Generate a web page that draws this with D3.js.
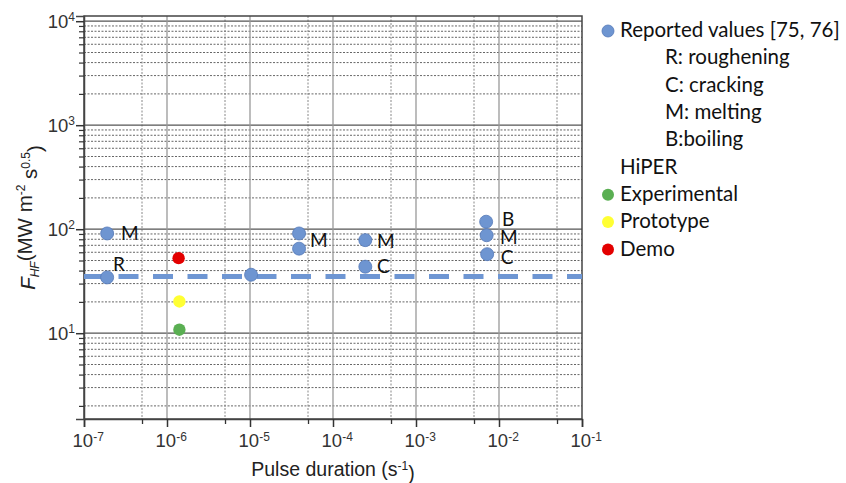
<!DOCTYPE html>
<html><head><meta charset="utf-8">
<script src="https://cdn.jsdelivr.net/npm/d3@7/dist/d3.min.js"></script>
<style>html,body{margin:0;padding:0;background:#fff;}svg{display:block;}</style>
</head><body>
<svg id="chart" width="846" height="483"></svg>
<script>
// ---- data ----
const reportedX = [1.9e-7, 1.9e-7, 1.03e-5, 3.9e-5, 3.9e-5, 2.45e-4, 2.45e-4, 7.0e-3, 7.1e-3, 7.2e-3];
const reportedY = [91, 34.4, 36.5, 91, 65, 78.5, 43.6, 118, 87.5, 57.5];
const hiperNames = ["Experimental", "Prototype", "Demo"];
const hiperX = [1.41e-6, 1.41e-6, 1.38e-6];
const hiperY = [10.8, 20.2, 52.7];
const thresholdY = 35;
const labelText = ["M", "R", "M", "M", "C", "B", "M", "C"];
const labelX = [2.79e-7, 2.24e-7, 5.3e-5, 3.39e-4, 3.39e-4, 1.09e-2, 1.03e-2, 1.05e-2];
const labelY = [91, 46.4, 77.3, 77, 43.6, 125, 84, 53.5];
const xTickExps = [-7, -6, -5, -4, -3, -2, -1];
const yTickExps = [1, 2, 3, 4];
const legendLines = ["Reported values [75, 76]", "R: roughening", "C: cracking", "M: melting", "B:boiling", "HiPER", "Experimental", "Prototype", "Demo"];

// ---- styles ----
const blue = "#6e95d1", blueStroke = "#5479b8";
const hiperColors = ["#5aaf52", "#ffff33", "#e30000"];
const svg = d3.select("#chart");
const L = 84, R = 582, T = 16, B = 419;
const x = d3.scaleLog().domain([1e-7, 1e-1]).range([L, R]);
const y = d3.scaleLog().domain([Math.pow(10, 0.175), Math.pow(10, 4.05)]).range([B, T]);

const yMinor = [];
for (let e = 0; e <= 3; e++) for (let m = 2; m <= 9; m++) { const v = m * Math.pow(10, e); if (v >= y.domain()[0]) yMinor.push(v); }
const yMajor = yTickExps.map(e => Math.pow(10, e));
const xMajor = xTickExps.map(e => Math.pow(10, e));
const xMinor = xTickExps.slice(0, -1).map(e => 5 * Math.pow(10, e));

const g = svg.append("g");
// minor grid
g.selectAll(".ymg").data(yMinor).join("line")
  .attr("x1", L).attr("x2", R).attr("y1", d => y(d)).attr("y2", d => y(d))
  .attr("stroke", "#666").attr("stroke-width", 1).attr("stroke-dasharray", "2,1.5");
g.selectAll(".xmg").data(xMinor).join("line")
  .attr("y1", T).attr("y2", B).attr("x1", d => x(d)).attr("x2", d => x(d))
  .attr("stroke", "#888").attr("stroke-width", 1).attr("stroke-dasharray", "2,1.5");
// major grid
g.selectAll(".yMg").data(yMajor).join("line")
  .attr("x1", L).attr("x2", R).attr("y1", d => y(d)).attr("y2", d => y(d))
  .attr("stroke", "#555").attr("stroke-width", 1.2);
g.selectAll(".xMg").data(xMajor.slice(1, -1)).join("line")
  .attr("y1", T).attr("y2", B).attr("x1", d => x(d)).attr("x2", d => x(d))
  .attr("stroke", "#999").attr("stroke-width", 1.3);
// frame
svg.append("rect").attr("x", L).attr("y", T).attr("width", R - L).attr("height", B - T)
  .attr("fill", "none").attr("stroke", "#444").attr("stroke-width", 1.5);

// axes
function sup(sel, expFn) {
  sel.each(function (d) {
    const t = d3.select(this);
    t.text("10");
    t.append("tspan").attr("dy", "-0.55em").attr("font-size", "12px").text(expFn(d));
  });
}
const xAx = svg.append("g").attr("transform", `translate(0,${B})`)
  .call(d3.axisBottom(x).tickValues(xMajor).tickSize(8).tickPadding(7).tickFormat(() => ""));
xAx.select(".domain").attr("stroke", "#444").attr("stroke-width", 1.5);
xAx.selectAll(".tick line").attr("stroke", "#333").attr("stroke-width", 1.5);
xAx.selectAll(".tick text").attr("font-family", "Liberation Sans, Arial, sans-serif").attr("font-size", "18.5px").attr("fill", "#333")
  .attr("dx", "0.2em").call(sup, d => String(Math.round(Math.log10(d))));
svg.append("g").attr("transform", `translate(0,${B})`)
  .call(d3.axisBottom(x).tickValues(xMinor).tickSize(5).tickFormat(() => ""))
  .call(a => { a.select(".domain").remove(); a.selectAll("line").attr("stroke", "#333").attr("stroke-width", 1.3); });

const yAx = svg.append("g").attr("transform", `translate(${L},0)`)
  .call(d3.axisLeft(y).tickValues(yMajor).tickSize(8).tickPadding(1).tickFormat(() => ""));
yAx.select(".domain").attr("stroke", "#444").attr("stroke-width", 1.5);
yAx.selectAll(".tick line").attr("stroke", "#333").attr("stroke-width", 1.5);
yAx.selectAll(".tick text").attr("font-family", "Liberation Sans, Arial, sans-serif").attr("font-size", "18.5px").attr("fill", "#333")
  .call(sup, d => String(Math.round(Math.log10(d))));
svg.append("g").attr("transform", `translate(${L},0)`)
  .call(d3.axisLeft(y).tickValues(yMinor).tickSize(5).tickFormat(() => ""))
  .call(a => { a.select(".domain").remove(); a.selectAll("line").attr("stroke", "#333").attr("stroke-width", 1.2); });

// axis titles
const xt = svg.append("text").attr("x", (L + R) / 2).attr("y", 476).attr("text-anchor", "middle")
  .attr("font-family", "Liberation Sans, Arial, sans-serif").attr("font-size", "19.5px").attr("fill", "#222");
xt.append("tspan").text("Pulse duration (s");
xt.append("tspan").attr("dy", "-0.5em").attr("font-size", "12px").text("-1");
xt.append("tspan").attr("dy", "0.5em").text(")");

const yt = svg.append("text").attr("transform", `translate(35,${(T + B) / 2}) rotate(-90)`).attr("text-anchor", "middle")
  .attr("font-family", "Liberation Sans, Arial, sans-serif").attr("font-size", "20.5px").attr("fill", "#222");
yt.append("tspan").attr("font-style", "italic").text("F");
yt.append("tspan").attr("font-style", "italic").attr("font-size", "12px").attr("dy", "0.35em").text("HF");
yt.append("tspan").attr("dy", "-0.35em").text("(MW m");
yt.append("tspan").attr("font-size", "12px").attr("dy", "-0.6em").text("-2");
yt.append("tspan").attr("dy", "0.6em").text(" s");
yt.append("tspan").attr("font-size", "12px").attr("dy", "-0.6em").text("0.5");
yt.append("tspan").attr("dy", "0.6em").text(")");

// threshold dashed line
svg.append("line").attr("x1", L).attr("x2", R).attr("y1", y(thresholdY)).attr("y2", y(thresholdY))
  .attr("stroke", "#6e96d3").attr("stroke-width", 5).attr("stroke-dasharray", "20,14.5");

// reported points
svg.append("g").selectAll("circle").data(reportedX.map((v, i) => [v, reportedY[i]])).join("circle")
  .attr("cx", d => x(d[0])).attr("cy", d => y(d[1])).attr("r", 6.5)
  .attr("fill", blue).attr("stroke", blueStroke).attr("stroke-width", 0.8);
// HiPER points
svg.append("g").selectAll("circle").data(hiperX.map((v, i) => [v, hiperY[i], i])).join("circle")
  .attr("cx", d => x(d[0])).attr("cy", d => y(d[1])).attr("r", 6.2)
  .attr("fill", d => hiperColors[d[2]]);
// labels
svg.append("g").selectAll("text").data(labelText.map((t, i) => [t, labelX[i], labelY[i]])).join("text")
  .attr("x", d => x(d[1])).attr("y", d => y(d[2])).attr("dy", "0.35em")
  .attr("font-family", "Lato, sans-serif").attr("font-size", "19px").attr("fill", "#111")
  .text(d => d[0]);

// legend
const lg = svg.append("g").attr("font-family", "Lato, sans-serif").attr("font-size", "20.5px").attr("fill", "#111");
const rowY = i => 30 + i * 27.3;
const indent = [620, 665, 665, 665, 665, 620, 620, 620, 620];
legendLines.forEach((t, i) => {
  lg.append("text").attr("x", indent[i]).attr("y", rowY(i)).attr("dy", "0.35em").text(t);
});
const legendDots = [[0, blue], [6, hiperColors[0]], [7, hiperColors[1]], [8, hiperColors[2]]];
lg.selectAll("circle").data(legendDots).join("circle")
  .attr("cx", 608).attr("cy", d => rowY(d[0]) + 1).attr("r", 6)
  .attr("fill", d => d[1]).attr("stroke", d => d[0] === 0 ? blueStroke : "none").attr("stroke-width", 0.8);
</script>
</body></html>
